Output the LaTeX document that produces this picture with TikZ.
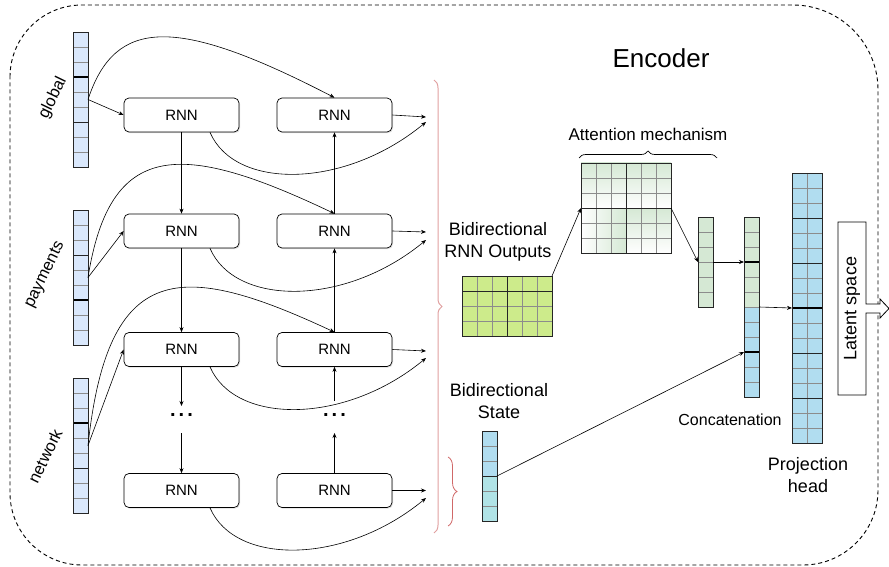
\documentclass[tikz,border=0pt]{standalone}
\usepackage{fontspec}
\setmainfont{Liberation Sans}
\usetikzlibrary{arrows.meta,decorations.pathreplacing,calc,shadows}
\definecolor{inblue}{HTML}{DAE8FC}
\definecolor{outgreen}{HTML}{CDEB8B}
\definecolor{attgreen}{HTML}{D5E8D4}
\definecolor{projblue}{HTML}{B1DDF0}
\definecolor{stateteal}{HTML}{B0E3E6}
\definecolor{bracered}{HTML}{E0A0A0}
\definecolor{bracered2}{HTML}{D06868}
\newcommand\myhrows[3]{\foreach \k in {#3}{\draw[#1] ($(#2.north west)+(0,\k*15)$) -- ($(#2.north east)+(0,\k*15)$);}}
\newcommand\myvcols[3]{\foreach \k in {#3}{\draw[#1] ($(#2.north west)+(\k*15,0)$) -- ($(#2.south west)+(\k*15,0)$);}}
\newcommand\myborder[1]{\draw[line width=0.8pt, draw=black!85] (#1.north west) rectangle (#1.south east);}
\tikzset{
  cellbox/.style={draw=black!85, line width=0.8pt, inner sep=0pt, outer sep=0pt},
  gline/.style={draw=black!45, line width=0.6pt},
  tline/.style={draw=black, line width=1.4pt},
  dline/.style={draw=black!85, line width=0.9pt},
  rnn/.style={draw, rounded corners=5pt, minimum width=115pt, minimum height=34pt, fill=white, line width=0.7pt, font=\fontsize{15}{18}\selectfont, drop shadow={shadow xshift=1pt, shadow yshift=-1.2pt, opacity=0.25}},
  arr/.style={-{Stealth[length=5pt,width=4pt]}, line width=0.6pt},
  lbl/.style={font=\fontsize{18}{22}\selectfont, align=center, inner sep=0pt},
  inlbl/.style={font=\fontsize{16.5}{20}\selectfont, rotate=64, inner sep=0pt},
  dotsty/.style={font=\fontsize{20}{22}\selectfont\bfseries, inner sep=0pt},
}
\begin{document}
\begin{tikzpicture}[x=1pt,y=-1pt]
\useasboundingbox (0,0) rectangle (889,567);

% outer dashed encoder border
\draw[dash pattern=on 4pt off 3pt, line width=0.9pt]
  (10,77) .. controls (10,37.3) and (42.3,5) .. (82,5)
  -- (793,5) .. controls (839.9,5) and (878,43.1) .. (878,90)
  -- (878,490) .. controls (878,531.4) and (844.4,565) .. (803,565)
  -- (82,565) .. controls (42.3,565) and (10,532.7) .. (10,493) -- cycle;

\node[font=\fontsize{26}{30}\selectfont, inner sep=0pt] (enc) at (661,58) {Encoder};

% input vectors
\foreach \nm/\cy in {vg/99.5, vp/277.5, vn/445.5}{
  \node[cellbox, fill=inblue, minimum width=15pt, minimum height=135pt] (\nm) at (80.5,\cy) {};
  \myhrows{gline}{\nm}{1,2,4,5,7,8}
}
\myhrows{tline}{vg}{3}\myhrows{dline}{vg}{6}
\myhrows{dline}{vp}{3}\myhrows{tline}{vp}{6}
\myhrows{tline}{vn}{3}\myhrows{dline}{vn}{6}
\myborder{vg}\myborder{vp}\myborder{vn}

\node[inlbl] (lg) at (53,98) {global};
\node[inlbl] (lp) at (45,275) {payments};
\node[inlbl] (ln) at (45,456) {network};

% RNN cells
\node[rnn] (r11) at (181.5,115) {RNN};
\node[rnn] (r12) at (181.5,231) {RNN};
\node[rnn] (r13) at (181.5,349.5) {RNN};
\node[rnn] (r14) at (181.5,490.5) {RNN};
\node[rnn] (r21) at (334.5,115) {RNN};
\node[rnn] (r22) at (334.5,231) {RNN};
\node[rnn] (r23) at (334.5,349.5) {RNN};
\node[rnn] (r24) at (334.5,490.5) {RNN};

\node[dotsty] (dA) at (181.5,415) {.\kern3pt.\kern3pt.};
\node[dotsty] (dB) at (334.5,415) {.\kern3pt.\kern3pt.};
\coordinate (dAt) at (181.5,406);
\coordinate (dAb) at (181.5,433);
\coordinate (dBt) at (334.5,401);
\coordinate (dBb) at (334.5,433);

% forward column
\draw[arr] (r11.south) -- (r12.north);
\draw[arr] (r12.south) -- (r13.north);
\draw[arr] (r13.south) -- (dAt);
\draw[arr] (dAb) -- (r14.north);
% backward column
\draw[arr] (r24.north) -- (dBb);
\draw[arr] (dBt) -- (r23.south);
\draw[arr] (r23.north) -- (r22.south);
\draw[arr] (r22.north) -- (r21.south);

% inputs
\draw[arr] (vg.east) -- (r11.west);
\draw[arr] (vp.east) -- (r12.west);
\draw[arr] (vn.east) -- (r13.west);
\draw[arr] (vg.east) .. controls (115,18) and (175,15) .. (r21.north);
\draw[arr] (vp.east) .. controls (110,140) and (180,140) .. (r22.north);
\draw[arr] (vn.east) .. controls (108,260) and (180,260) .. (r23.north);

% outputs
\coordinate (o1s) at (426,117);  \coordinate (o1c) at (426,122);
\coordinate (o2s) at (426,232);  \coordinate (o2c) at (426,240);
\coordinate (o3s) at (426,351);  \coordinate (o3c) at (426,358);
\coordinate (o4s) at (426,490.5);\coordinate (o4c) at (426,498);
\draw[arr] (r21.east) -- (o1s);
\draw[arr] (r22.east) -- (o2s);
\draw[arr] (r23.east) -- (o3s);
\draw[arr] (r24.east) -- (o4s);
\draw[arr] ($(r11.south)+(28.5,0)$) .. controls +(25,58) and +(-81,67) .. (o1c);
\draw[arr] ($(r12.south)+(28.5,0)$) .. controls +(25,58) and +(-81,67) .. (o2c);
\draw[arr] ($(r13.south)+(28.5,0)$) .. controls +(25,58) and +(-81,67) .. (o3c);
\draw[arr] ($(r14.south)+(28.5,0)$) .. controls +(25,58) and +(-81,67) .. (o4c);

% braces
\draw[bracered, line width=1pt, decorate, decoration={brace, amplitude=8pt}] (434,80) -- (434,533);
\draw[bracered2, line width=0.8pt, decorate, decoration={brace, amplitude=9pt}] (448,457) -- (448,526);

% labels
\node[lbl] (tro) at (498,242) {Bidirectional\\RNN Outputs};
\node[lbl] (tst) at (499,401.5) {Bidirectional\\State};
\node[font=\fontsize{17}{20}\selectfont, inner sep=0pt] (tatt) at (648,134) {Attention mechanism};
\node[font=\fontsize{16}{19}\selectfont, inner sep=0pt] (tcat) at (730,419.5) {Concatenation};
\node[lbl] (tproj) at (808,475.5) {Projection\\head};

% bidirectional RNN outputs grid
\node[cellbox, fill=outgreen, minimum width=90pt, minimum height=60pt] (og) at (507,306) {};
\myvcols{gline}{og}{1,2,4,5}
\myhrows{gline}{og}{2,3}
\myvcols{dline}{og}{3}
\myhrows{dline}{og}{1}
\myborder{og}

% attention matrix
\node[cellbox, minimum width=90pt, minimum height=90pt] (att) at (626,208) {};
\shade[top color=attgreen, bottom color=white] (att.north west) rectangle (att.center);
\shade[top color=attgreen, bottom color=white] (att.north) rectangle (att.east);
\shade[left color=white, right color=attgreen] (att.west) rectangle (att.south);
\shade[top color=attgreen, bottom color=white] (att.center) rectangle (att.south east);
\myvcols{gline}{att}{1,2,4,5}
\myhrows{gline}{att}{1,2,4,5}
\myvcols{dline}{att}{3}
\myhrows{dline}{att}{3}
\myborder{att}
\draw[line width=0.7pt, decorate, decoration={brace, amplitude=7pt}] (579,158) -- (717,158);

% context vector
\node[cellbox, fill=attgreen, minimum width=15pt, minimum height=90pt] (ctx) at (705.5,262) {};
\myhrows{gline}{ctx}{1,2,3,4,5}
\myborder{ctx}

% concatenation
\node[cellbox, minimum width=15pt, minimum height=180pt] (cat) at (751.5,307) {};
\fill[attgreen] (cat.north west) rectangle (cat.east);
\fill[projblue] (cat.west) rectangle (cat.south east);
\myhrows{gline}{cat}{1,2,4,5,6,7,8,10,11}
\myhrows{tline}{cat}{3,9}
\myborder{cat}

% bidirectional state
\node[cellbox, minimum width=15pt, minimum height=90pt] (st) at (489.5,476) {};
\fill[projblue] (st.north west) rectangle (st.east);
\fill[stateteal] (st.west) rectangle (st.south east);
\myhrows{gline}{st}{1,2,4,5}
\myhrows{dline}{st}{3}
\myborder{st}

% projection head
\node[cellbox, fill=projblue, minimum width=30pt, minimum height=270pt] (proj) at (807,308) {};
\myvcols{gline}{proj}{1}
\myhrows{gline}{proj}{1,2,4,5,7,8,10,11,13,14,16,17}
\myhrows{dline}{proj}{3,6,12,15}
\myhrows{tline}{proj}{9}
\myborder{proj}

% connectors on the right
\draw[arr] (og.north east) -- (att.west);
\draw[arr] (att.east) -- (ctx.west);
\draw[arr] (ctx.east) -- (ctx.east -| cat.west);
\draw[arr] (st.east) -- ($(cat.south west)+(0,-45)$);
\draw[arr] (cat.east) -- (proj.west);

% latent space
\draw[line width=0.8pt, fill=white] (838,222) -- (866,222) -- (866,304) -- (880,304) -- (880,299) -- (889,308.5) -- (880,318) -- (880,313) -- (866,313) -- (866,395) -- (838,395) -- cycle;
\node[font=\fontsize{18}{22}\selectfont, rotate=90, inner sep=0pt] (lat) at (852,308.5) {Latent space};
\end{tikzpicture}
\end{document}
